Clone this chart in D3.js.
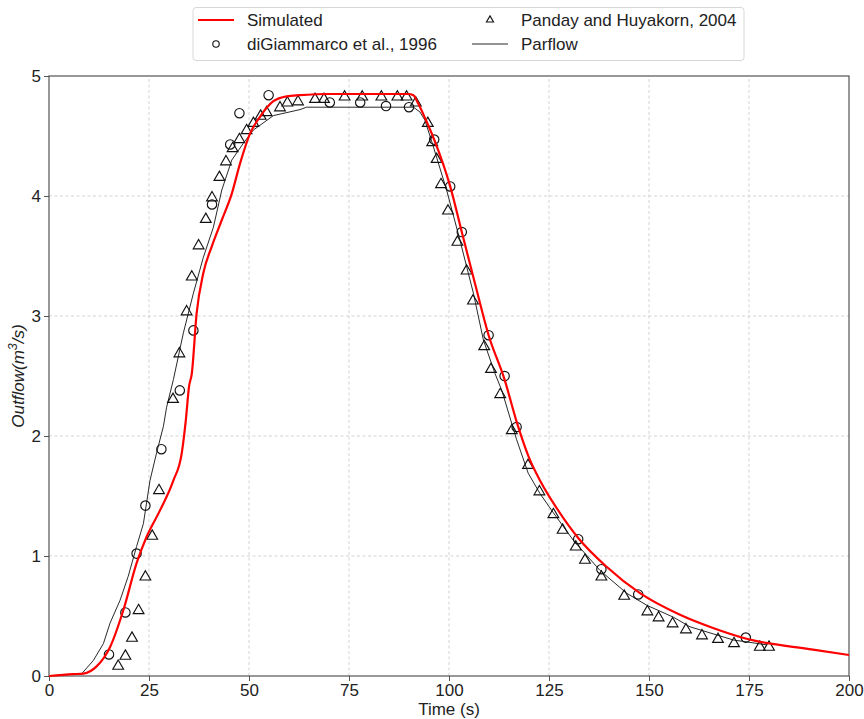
<!DOCTYPE html>
<html lang="en">
<head>
    <meta charset="utf-8">
    <title>Outflow</title>
    <script src="https://cdn.jsdelivr.net/npm/d3@7"></script>
    <style type="text/css">
        body {
            margin: 0;
            background: #fff;
        }
        svg {
            font-family: "Liberation Sans", Arial, sans-serif;
        }
    </style>
</head>
<body>
    <script type="text/javascript">
    // Simulated (red curve)
    var simTime = [0, 6, 8.6, 11.9, 15.25, 18.6, 21.9, 24.4, 27.75, 31.1, 33.2, 34.2, 35, 35.7, 36.9, 38.6, 40.7, 43.2, 45.7, 47.75, 50.25, 52.75, 56.1, 59.4, 62.75, 70, 80, 89.8, 91.1, 92.3, 94, 96.3, 100.3, 103.2, 106.5, 109.9, 113.9, 116.9, 120, 122.75, 126.9, 132.3, 139.4, 147.75, 157.75, 166, 174.4, 191, 200];
    var simFlow = [0, 0.015, 0.02, 0.08, 0.24, 0.55, 0.94, 1.16, 1.38, 1.63, 1.86, 2.13, 2.41, 2.52, 3.02, 3.36, 3.58, 3.80, 4.02, 4.27, 4.52, 4.66, 4.79, 4.83, 4.84, 4.85, 4.85, 4.85, 4.84, 4.77, 4.65, 4.47, 4.08, 3.70, 3.27, 2.84, 2.47, 2.12, 1.82, 1.63, 1.40, 1.15, 0.91, 0.69, 0.51, 0.40, 0.31, 0.22, 0.175];

    // Parflow (thin black line)
    var parTime = [0, 8.2, 11.1, 13.6, 15.25, 17.75, 19.8, 21.9, 23.6, 25.25, 26.9, 28.6, 29.4, 31.1, 33.6, 36.1, 38.6, 41.1, 43.2, 45.7, 48.6, 51.1, 56.1, 62.75, 64.4, 91.1, 92.75, 94, 96.1, 99.4, 102.75, 106.1, 108.6, 111.5, 113.2, 116.9, 119.8, 122.75, 126.1, 131.1, 137.75, 144.4, 149.4, 156.1, 160.25, 171.1, 179.4];
    var parFlow = [0, 0.02, 0.13, 0.27, 0.44, 0.63, 0.83, 1.08, 1.27, 1.63, 1.86, 2.08, 2.24, 2.47, 2.86, 3.19, 3.49, 3.74, 4.05, 4.30, 4.44, 4.55, 4.67, 4.72, 4.74, 4.74, 4.70, 4.63, 4.41, 4.05, 3.63, 3.19, 2.80, 2.52, 2.38, 1.97, 1.69, 1.52, 1.36, 1.13, 0.88, 0.69, 0.59, 0.49, 0.41, 0.30, 0.26];

    // diGiammarco et al., 1996 (circles)
    var digTime = [15, 19.1, 21.9, 24.1, 28.1, 32.7, 36.1, 40.75, 45.3, 47.6, 54.9, 70.2, 77.8, 84.25, 90, 96.3, 100.3, 103.2, 109.9, 113.9, 116.9, 132.3, 138.1, 147.3, 174.2];
    var digFlow = [0.18, 0.53, 1.02, 1.42, 1.89, 2.38, 2.88, 3.93, 4.43, 4.69, 4.84, 4.78, 4.78, 4.75, 4.74, 4.47, 4.08, 3.70, 2.84, 2.50, 2.075, 1.14, 0.89, 0.68, 0.32];

    // Panday and Huyakorn, 2004 (triangles)
    var panTime = [17.3, 19.1, 20.75, 22.4, 24.1, 25.8, 27.5, 31, 32.6, 34.4, 35.7, 37.4, 39.2, 40.75, 42.6, 44.25, 45.9, 47.6, 49.4, 51.1, 52.9, 54.4, 57.75, 59.6, 62.25, 66.5, 68.75, 73.9, 78.3, 83.1, 87.1, 89.4, 91.7, 94.7, 95.8, 96.9, 98, 99.75, 102.1, 104.4, 106, 108.8, 110.5, 112.8, 115.7, 119.75, 122.6, 126.1, 128.4, 131.7, 134, 138.1, 143.8, 149.6, 152.4, 155.9, 159.25, 163.25, 167.25, 171.25, 177.7, 180];
    var panFlow = [0.086, 0.17, 0.32, 0.55, 0.83, 1.17, 1.55, 2.31, 2.69, 3.04, 3.33, 3.59, 3.81, 3.99, 4.16, 4.29, 4.40, 4.475, 4.55, 4.61, 4.67, 4.70, 4.74, 4.78, 4.79, 4.81, 4.81, 4.83, 4.83, 4.83, 4.83, 4.83, 4.78, 4.61, 4.45, 4.31, 4.10, 3.88, 3.62, 3.38, 3.13, 2.75, 2.56, 2.35, 2.05, 1.76, 1.54, 1.35, 1.22, 1.08, 0.97, 0.83, 0.67, 0.54, 0.49, 0.44, 0.39, 0.34, 0.31, 0.275, 0.245, 0.245];

    var xTicks = [0, 25, 50, 75, 100, 125, 150, 175, 200];
    var yTicks = [0, 1, 2, 3, 4, 5];

    var width = 864, height = 719;
    var margin = {top: 76, right: 15, bottom: 43, left: 49};

    var svg = d3.select("body").append("svg")
        .attr("width", width)
        .attr("height", height);

    var x = d3.scaleLinear().domain([0, 200]).range([margin.left, width - margin.right]);
    var y = d3.scaleLinear().domain([0, 5]).range([height - margin.bottom, margin.top]);

    // grid
    svg.append("g").selectAll("line").data(xTicks.slice(1, -1)).join("line")
        .attr("x1", d => x(d)).attr("x2", d => x(d))
        .attr("y1", y(0)).attr("y2", y(5))
        .attr("stroke", "#c8c8c8").attr("stroke-width", 0.8).attr("stroke-dasharray", "3,2.5");
    svg.append("g").selectAll("line").data(yTicks.slice(1, -1)).join("line")
        .attr("x1", x(0)).attr("x2", x(200))
        .attr("y1", d => y(d)).attr("y2", d => y(d))
        .attr("stroke", "#c8c8c8").attr("stroke-width", 0.8).attr("stroke-dasharray", "3,2.5");

    // axes
    var xAxis = svg.append("g")
        .attr("transform", "translate(0," + y(0) + ")")
        .call(d3.axisBottom(x).tickValues(xTicks).tickFormat(d3.format("d")).tickSize(5).tickPadding(3));
    var yAxis = svg.append("g")
        .attr("transform", "translate(" + x(0) + ",0)")
        .call(d3.axisLeft(y).tickValues(yTicks).tickFormat(d3.format("d")).tickSize(5).tickPadding(3));
    [xAxis, yAxis].forEach(function(g){
        g.select(".domain").remove();
        g.selectAll("line").attr("stroke", "#555");
        g.selectAll("text").attr("font-size", 17).attr("fill", "#222")
            .attr("font-family", "'Liberation Sans', Arial, sans-serif");
    });

    // frame
    svg.append("rect")
        .attr("x", x(0)).attr("y", y(5))
        .attr("width", x(200) - x(0)).attr("height", y(0) - y(5))
        .attr("fill", "none").attr("stroke", "#444").attr("stroke-width", 1.1);

    // lines
    var simLine = d3.line().x(d => x(d[0])).y(d => y(d[1])).curve(d3.curveMonotoneX);
    var parLine = d3.line().x(d => x(d[0])).y(d => y(d[1]));

    svg.append("path")
        .datum(parTime.map((t, i) => [t, parFlow[i]]))
        .attr("d", parLine)
        .attr("fill", "none").attr("stroke", "#111").attr("stroke-width", 0.9);

    // triangles
    var tri = d3.symbol().type(d3.symbolTriangle).size(50);
    svg.append("g").selectAll("path")
        .data(panTime.map((t, i) => [t, panFlow[i]]))
        .join("path")
        .attr("d", tri)
        .attr("transform", d => "translate(" + x(d[0]) + "," + (y(d[1]) + 0.5) + ")")
        .attr("fill", "none").attr("stroke", "#111").attr("stroke-width", 1.15);

    // circles
    svg.append("g").selectAll("circle")
        .data(digTime.map((t, i) => [t, digFlow[i]]))
        .join("circle")
        .attr("cx", d => x(d[0])).attr("cy", d => y(d[1])).attr("r", 4.7)
        .attr("fill", "none").attr("stroke", "#111").attr("stroke-width", 1.15);

    svg.append("path")
        .datum(simTime.map((t, i) => [t, simFlow[i]]))
        .attr("d", simLine)
        .attr("fill", "none").attr("stroke", "#ff0000").attr("stroke-width", 2.2);

    // axis labels
    svg.append("text")
        .attr("x", (x(0) + x(200)) / 2).attr("y", 715)
        .attr("text-anchor", "middle").attr("font-size", 17).attr("fill", "#222")
        .text("Time (s)");

    var yl = svg.append("text")
        .attr("transform", "translate(24," + ((y(0) + y(5)) / 2) + ") rotate(-90)")
        .attr("text-anchor", "middle").attr("font-size", 17).attr("fill", "#222")
        .attr("font-style", "italic");
    yl.append("tspan").text("Outflow(m");
    yl.append("tspan").attr("font-size", 12.5).attr("dy", -7).text("3");
    yl.append("tspan").attr("dy", 7).text("/s)");

    // legend
    var leg = svg.append("g");
    leg.append("rect")
        .attr("x", 193).attr("y", 7.5).attr("width", 551).attr("height", 53).attr("rx", 3)
        .attr("fill", "#fff").attr("stroke", "#d8d8d8").attr("stroke-width", 1);

    var legItems = [
        {label: "Simulated", cx: 216, tx: 247, ty: 26, kind: "red"},
        {label: "diGiammarco et al., 1996", cx: 216, tx: 247, ty: 50, kind: "circle"},
        {label: "Panday and Huyakorn, 2004", cx: 490, tx: 521, ty: 26, kind: "tri"},
        {label: "Parflow", cx: 490, tx: 521, ty: 50, kind: "black"}
    ];
    legItems.forEach(function(d){
        var cy = d.ty - 6;
        if (d.kind == "red" || d.kind == "black") {
            leg.append("line")
                .attr("x1", d.cx - 18).attr("x2", d.cx + 18).attr("y1", cy).attr("y2", cy)
                .attr("stroke", d.kind == "red" ? "#ff0000" : "#111")
                .attr("stroke-width", d.kind == "red" ? 2.2 : 0.9);
        } else if (d.kind == "circle") {
            leg.append("circle").attr("cx", d.cx).attr("cy", cy).attr("r", 3.2)
                .attr("fill", "none").attr("stroke", "#111").attr("stroke-width", 1.1);
        } else {
            leg.append("path").attr("d", d3.symbol().type(d3.symbolTriangle).size(22))
                .attr("transform", "translate(" + d.cx + "," + cy + ")")
                .attr("fill", "none").attr("stroke", "#111").attr("stroke-width", 1.1);
        }
        leg.append("text").attr("x", d.tx).attr("y", d.ty)
            .attr("font-size", 17).attr("fill", "#222").text(d.label);
    });
    </script>
</body>
</html>
